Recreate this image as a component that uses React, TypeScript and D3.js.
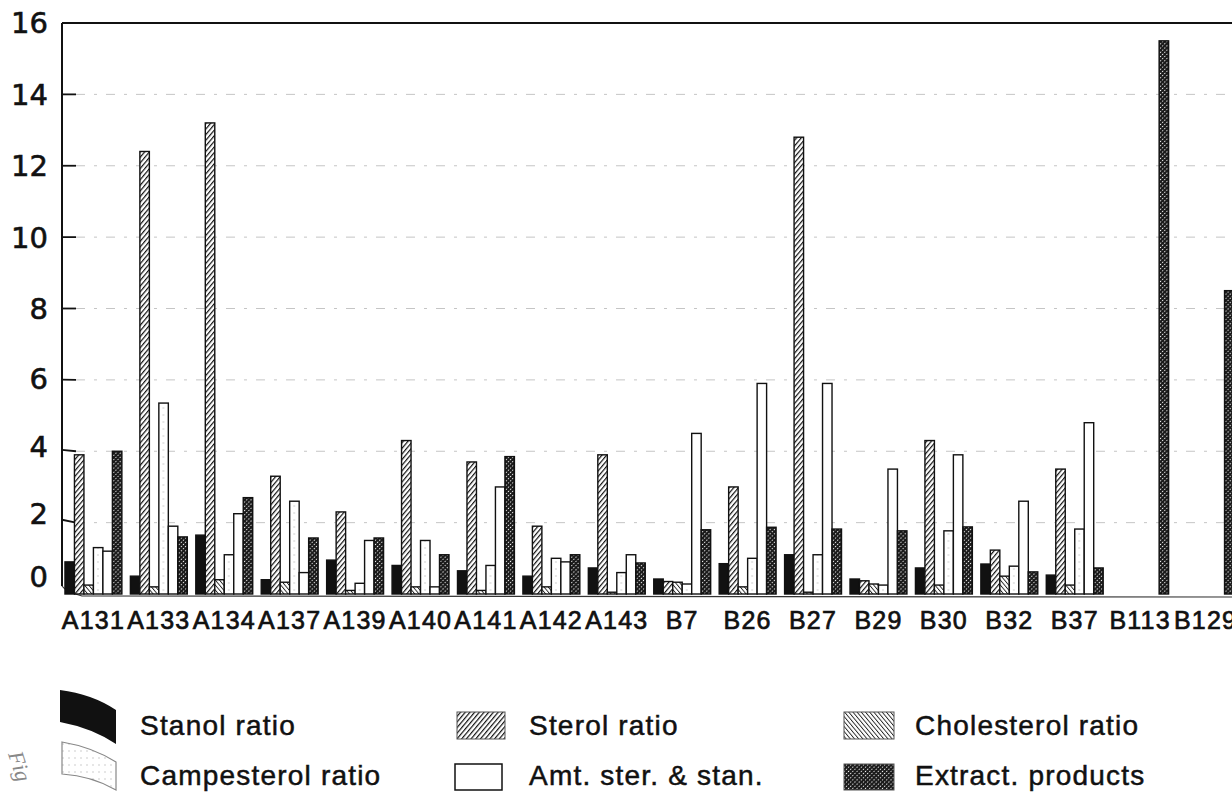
import * as d3 from "d3"

// sample names along the x axis
const categories = [
  "A131", "A133", "A134", "A137", "A139", "A140", "A141", "A142", "A143",
  "B7", "B26", "B27", "B29", "B30", "B32", "B37", "B113", "B129"
]

// values
const stanolRatio = [0.9, 0.5, 1.65, 0.4, 0.95, 0.8, 0.65, 0.5, 0.73, 0.42, 0.85, 1.1, 0.42, 0.73, 0.84, 0.53, 0, 0]
const sterolRatio = [3.9, 12.4, 13.2, 3.3, 2.3, 4.3, 3.7, 1.9, 3.9, 0.35, 3.0, 12.8, 0.37, 4.3, 1.23, 3.5, 0, 0]
const cholesterolRatio = [0.25, 0.2, 0.4, 0.33, 0.1, 0.2, 0.1, 0.2, 0.05, 0.33, 0.2, 0.05, 0.28, 0.25, 0.5, 0.25, 0, 0]
const campesterolRatio = [1.3, 5.35, 1.1, 2.6, 0.3, 1.5, 0.8, 1.0, 0.6, 0.28, 1.0, 1.1, 0.25, 1.77, 0.78, 1.82, 0, 0]
const amtSterStan = [1.2, 1.9, 2.25, 0.6, 1.5, 0.2, 3.0, 0.9, 1.1, 4.5, 5.9, 5.9, 3.5, 3.9, 2.6, 4.8, 0, 0]
const extractProducts = [4.0, 1.6, 2.7, 1.57, 1.57, 1.1, 3.85, 1.1, 0.87, 1.8, 1.87, 1.82, 1.77, 1.88, 0.62, 0.73, 15.5, 8.5]

const yTicks = [0, 2, 4, 6, 8, 10, 12, 14, 16]

const series = [
  { key: "stanol", label: "Stanol ratio", values: stanolRatio, fill: "#111" },
  { key: "sterol", label: "Sterol ratio", values: sterolRatio, fill: "url(#pat-sterol)" },
  { key: "chol", label: "Cholesterol ratio", values: cholesterolRatio, fill: "url(#pat-chol)" },
  { key: "camp", label: "Campesterol ratio", values: campesterolRatio, fill: "url(#pat-camp)" },
  { key: "amt", label: "Amt. ster. & stan.", values: amtSterStan, fill: "#fff" },
  { key: "extract", label: "Extract. products", values: extractProducts, fill: "url(#pat-extract)" }
]

const W = 1232
const H = 792
const axisX = 62
const right = 1232

const App = () => {
  const x = d3.scaleBand<string>()
    .domain(categories)
    .range([63, 1236])
    .paddingInner(0.13)
    .paddingOuter(0.03)

  const xs = d3.scaleBand<string>()
    .domain(series.map(s => s.key))
    .range([0, x.bandwidth()])

  const y = d3.scaleLinear().domain([0, 16]).range([594, 23])

  // the scan is bent near the floor, lower labels sit a little higher
  const shift = (v: number) => (v < 8 ? -17 * (1 - v / 8) ** 2 : 0)

  const font = "'Liberation Sans', Arial, Helvetica, sans-serif"

  return (
    <svg width={W} height={H} style={{ position: "absolute", left: 0, top: 0, background: "#fff" }}>
      <defs>
        <pattern id="pat-sterol" width={3.6} height={3.6} patternUnits="userSpaceOnUse" patternTransform="rotate(40)">
          <rect width={3.6} height={3.6} fill="#fff" />
          <line x1={0} y1={0} x2={0} y2={3.6} stroke="#111" strokeWidth={2.4} />
        </pattern>
        <pattern id="pat-chol" width={3.2} height={3.2} patternUnits="userSpaceOnUse" patternTransform="rotate(-40)">
          <rect width={3.2} height={3.2} fill="#fff" />
          <line x1={0} y1={0} x2={0} y2={3.2} stroke="#222" strokeWidth={1.8} />
        </pattern>
        <pattern id="pat-camp" width={6} height={7} patternUnits="userSpaceOnUse">
          <rect width={6} height={7} fill="#fff" />
          <circle cx={3} cy={2} r={0.7} fill="#bbb" />
        </pattern>
        <pattern id="pat-extract" width={3} height={3} patternUnits="userSpaceOnUse" patternTransform="rotate(45)">
          <rect width={3} height={3} fill="#fff" />
          <rect width={2} height={3} fill="#1a1a1a" />
          <rect width={3} height={1.8} fill="#1a1a1a" />
        </pattern>
      </defs>

      {/* grid lines */}
      {yTicks.filter(t => t > 0 && t < 16).map(t => (
        <line key={"g" + t} x1={76} x2={right} y1={y(t)} y2={y(t)}
          stroke="#a0a0a0" strokeWidth={1} strokeDasharray="9 9 3 9" opacity={0.6} />
      ))}

      {/* frame: top border, left axis, floor */}
      <line x1={axisX} x2={right} y1={23} y2={23} stroke="#111" strokeWidth={2} />
      <line x1={axisX} x2={axisX} y1={23} y2={y(0) - 8} stroke="#111" strokeWidth={2} />
      <path d={`M${axisX},${y(0) - 8} Q${axisX + 4},${y(0) - 2} ${axisX + 20},${y(0) + 2} L${right},${y(0) + 3}`}
        fill="none" stroke="#333" strokeWidth={1.2} />

      {yTicks.map(t => (
        <g key={"t" + t}>
          {t > 0 && t < 16 && (
            <line x1={axisX} x2={76} y1={y(t) + shift(t) * 0.3} y2={y(t)} stroke="#111" strokeWidth={1.8} />
          )}
          <text x={48} y={y(t) + shift(t)} dy="0.36em" textAnchor="end"
            fontFamily="'DejaVu Sans', sans-serif" fontSize={29} fill="#111" stroke="#111" strokeWidth={0.6}>
            {t}
          </text>
        </g>
      ))}

      {/* bars */}
      {categories.map((c, i) => (
        <g key={c} transform={`translate(${x(c)},0)`}>
          {series.map(s => s.values[i] > 0 && (
            <rect key={s.key} x={xs(s.key)} width={xs.bandwidth()}
              y={y(s.values[i])} height={y(0) - y(s.values[i])}
              fill={s.fill} stroke="#111" strokeWidth={1.4} />
          ))}
        </g>
      ))}

      {/* x labels */}
      {categories.map(c => (
        <text key={"l" + c} x={(x(c) ?? 0) + x.bandwidth() / 2} y={629} textAnchor="middle"
          fontFamily={font} fontSize={25} letterSpacing={1.2} fill="#111" stroke="#111" strokeWidth={0.7}>
          {c}
        </text>
      ))}

      {/* legend */}
      <path d="M60,690 Q92,694 116,710 L116,744 Q92,728 60,722 Z" fill="#111" />
      <path d="M62,742 Q92,747 116,762 L116,790 Q92,776 62,774 Z" fill="url(#pat-camp)" stroke="#888" strokeWidth={1.2} />
      <rect x={457} y={712} width={48} height={27} fill="url(#pat-sterol)" stroke="#555" strokeWidth={1} />
      <rect x={844} y={712} width={50} height={27} fill="url(#pat-chol)" stroke="#555" strokeWidth={1} />
      <rect x={455} y={764} width={47} height={26} fill="#fff" stroke="#111" strokeWidth={1.5} />
      <rect x={844} y={764} width={50} height={26} fill="url(#pat-extract)" stroke="#555" strokeWidth={1} />

      {[
        { i: 0, x: 140, y: 735 },
        { i: 1, x: 529, y: 735 },
        { i: 2, x: 915, y: 735 },
        { i: 3, x: 140, y: 785 },
        { i: 4, x: 529, y: 785 },
        { i: 5, x: 915, y: 785 }
      ].map(d => (
        <text key={"lg" + d.i} x={d.x} y={d.y} fontFamily={font} fontSize={28} letterSpacing={1.2}
          fill="#111" stroke="#111" strokeWidth={0.5}>
          {series[d.i].label}
        </text>
      ))}

      <text transform="translate(8,754) rotate(72)" fontFamily="serif" fontStyle="italic"
        fontSize={22} fill="#888">Fig</text>
    </svg>
  )
}

export default App
